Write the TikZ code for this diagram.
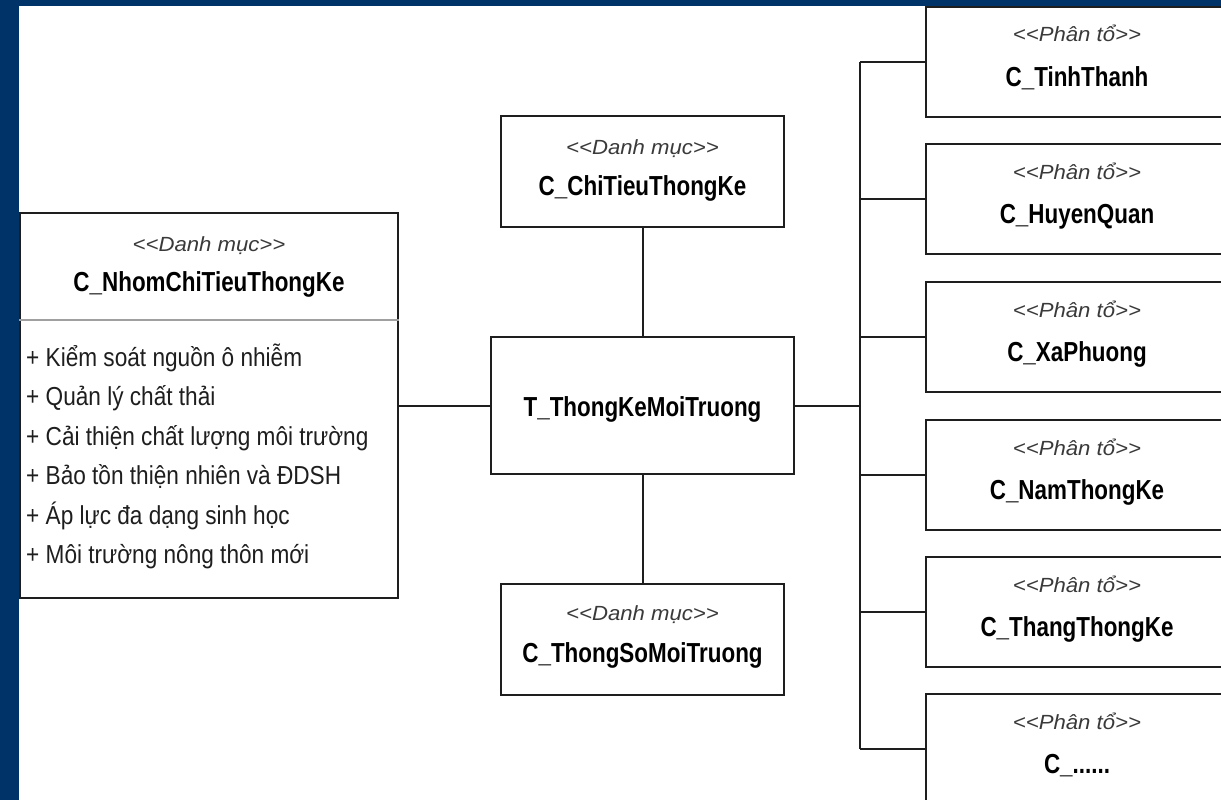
\documentclass[tikz,border=0pt]{standalone}
\usepackage{fontspec}
\usetikzlibrary{calc}
\setmainfont{Liberation Sans}
\newfontfamily\namefont{Liberation Sans}[FakeStretch=0.815]
\newfontfamily\stereofont{Liberation Sans}[FakeStretch=1.08]
\newfontfamily\itemfont{Liberation Sans}[FakeStretch=0.87]
\definecolor{navy}{HTML}{003468}
\definecolor{linegray}{HTML}{1E1E1E}
\definecolor{sepgray}{HTML}{A0A0A0}
\definecolor{stereogray}{HTML}{3A3A3A}
\newcommand\moredims{C\_......}
\begin{document}
\begin{tikzpicture}[x=1pt,y=-1pt,
  box/.style={draw=linegray, line width=2pt, fill=white, inner sep=0pt},
  catbox/.style={box, minimum width=283pt, minimum height=111pt},
  dimbox/.style={box, minimum width=302pt, minimum height=110pt},
  stereo/.style={font=\stereofont\itshape\fontsize{20.5}{24}\selectfont, text=stereogray, anchor=base, inner sep=0pt},
  cname/.style={font=\namefont\bfseries\fontsize{27.5}{32}\selectfont, text=black, anchor=base, inner sep=0pt},
  item/.style={font=\itemfont\fontsize{26}{30}\selectfont, text=linegray, anchor=base west, inner sep=0pt},
  link/.style={draw=linegray, line width=2pt}
]
\useasboundingbox (0,0) rectangle (1221,800);
\clip (0,0) rectangle (1221,800);
% frame
\fill[navy] (0,0) rectangle (1221,800);
\fill[white] (19,6) rectangle (1221,800);

% group catalogue with its list of items
\node[box, minimum width=378pt, minimum height=385pt] (grp) at (209,405.5) {};
\draw[sepgray, line width=1.6pt] (grp.west |- 0,320) -- (grp.east |- 0,320);
\node[stereo] (grpS) at (209,251) {<<Danh mục>>};
\node[cname] (grpN) at (209,291) {C\_NhomChiTieuThongKe};
\node[item] (i1) at (26,366) {+ Kiểm soát nguồn ô nhiễm};
\node[item] (i2) at (26,405.5) {+ Quản lý chất thải};
\node[item] (i3) at (26,445) {+ Cải thiện chất lượng môi trường};
\node[item] (i4) at (26,484.5) {+ Bảo tồn thiện nhiên và ĐDSH};
\node[item] (i5) at (26,524) {+ Áp lực đa dạng sinh học};
\node[item] (i6) at (26,563.5) {+ Môi trường nông thôn mới};

% central fact table
\node[box, minimum width=303pt, minimum height=137pt] (fact) at (642.5,405.5) {};
\node[cname] (factN) at (642.5,416) {T\_ThongKeMoiTruong};

% catalogues above and below
\node[catbox] (kpi) at (642.5,171.5) {};
\node[stereo] (kpiS) at (642.5,154.5) {<<Danh mục>>};
\node[cname] (kpiN) at (642.5,195.5) {C\_ChiTieuThongKe};

\node[catbox] (par) at (642.5,639) {};
\node[stereo] (parS) at (642.5,620.5) {<<Danh mục>>};
\node[cname] (parN) at (642.5,662.5) {C\_ThongSoMoiTruong};

% dimension boxes on the right
\foreach \n/\y/\t in {d1/62/C\_TinhThanh, d2/199/C\_HuyenQuan, d3/337/C\_XaPhuong,
                      d4/475/C\_NamThongKe, d5/612/C\_ThangThongKe, d6/749/\moredims}{
  \node[dimbox] (\n) at (1077,\y) {};
  \node[stereo] (\n S) at (1077,\y-20) {<<Phân tổ>>};
  \node[cname] (\n N) at (1077,\y+24) {\t};
}

% connectors
\coordinate (bus) at (860,406);
\draw[link] (fact.west) -- (fact.west -| grp.east);
\draw[link] (fact.north) -- (kpi.south);
\draw[link] (fact.south) -- (par.north);
\draw[link] (fact.east) -- (fact.east -| bus);
\draw[link] (bus |- d1.west) -- (bus |- d6.west);
\foreach \n in {d1,d2,d3,d4,d5,d6}{
  \draw[link] (\n.west) -- (\n.west -| bus);
}
\end{tikzpicture}
\end{document}
